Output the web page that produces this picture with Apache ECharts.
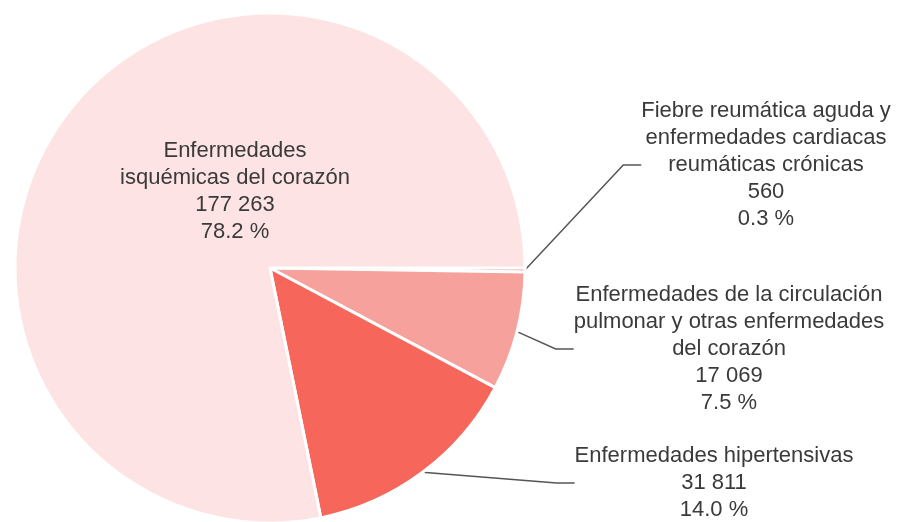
<!DOCTYPE html>
<html>
<head>
<meta charset="utf-8">
<script src="https://cdn.jsdelivr.net/npm/echarts@6/dist/echarts.min.js"></script>
<style>
  html, body { margin: 0; padding: 0; background: #fff; }
  #chart { width: 912px; height: 522px; }
</style>
</head>
<body>
<div id="chart"></div>
<script>
var categories = [
  "Fiebre reumática aguda y\nenfermedades cardiacas\nreumáticas crónicas",
  "Enfermedades de la circulación\npulmonar y otras enfermedades\ndel corazón",
  "Enfermedades hipertensivas",
  "Enfermedades\nisquémicas del corazón"
];
var values = [560, 17069, 31811, 177263];
var percents = ["0.3 %", "7.5 %", "14.0 %", "78.2 %"];
var colors = ["#d9534f", "#f6a19b", "#f6665b", "#fde3e3"];

// where each label block sits (centre of text)
var labelPos = [[766, 165], [729, 349], [714, 483], [235, 191]];

function fmt(n) {
  return String(n).replace(/\B(?=(\d{3})+(?!\d))/g, " ");
}

var chart = echarts.init(document.getElementById("chart"));

var option = {
  animation: false,
  series: [
    {
      type: "pie",
      center: [270, 268],
      radius: 255,
      startAngle: 0,
      clockwise: true,
      itemStyle: {
        borderColor: "#fff",
        borderWidth: 3,
      },
      label: {
        show: true,
        position: "outside",
        fontFamily: "Liberation Sans, Arial, sans-serif",
        fontSize: 22,
        lineHeight: 27,
        color: "#3a3a3a",
        align: "center",
        formatter: function (p) {
          return p.name + "\n" + fmt(p.value) + "\n" + percents[p.dataIndex];
        },
      },
      labelLine: {
        show: true,
        length: 20,
        length2: 18,
        lineStyle: { color: "#555", width: 1.5 },
      },
      labelLayout: function (p) {
        var pos = labelPos[p.dataIndex];
        return { x: pos[0], y: pos[1], align: "center", verticalAlign: "middle" };
      },
      data: values.map(function (v, i) {
        var d = { name: categories[i], value: v, itemStyle: { color: colors[i] } };
        if (i === 3) {
          d.label = { position: "inside" };
          d.labelLine = { show: false };
        }
        return d;
      }),
    },
  ],
};

chart.setOption(option);
</script>
</body>
</html>
